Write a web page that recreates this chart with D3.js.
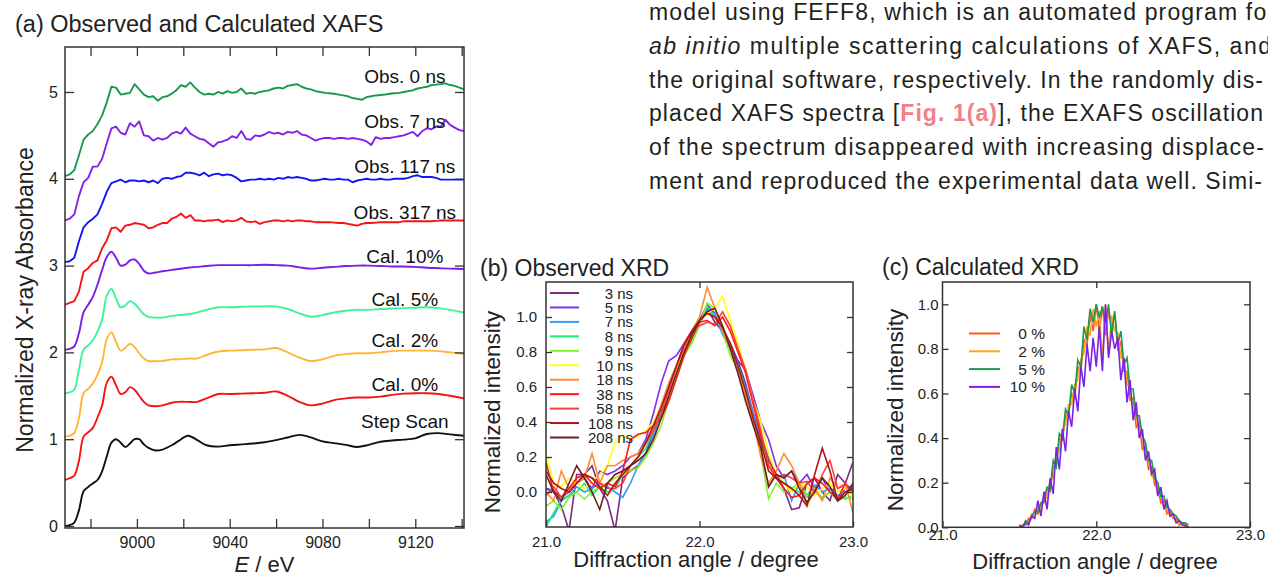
<!DOCTYPE html>
<html>
<head>
<meta charset="utf-8">
<script src="https://cdn.jsdelivr.net/npm/d3@7"></script>
<style>
  body { margin: 0; background: #fff; }
  svg { display: block; font-family: "Liberation Sans", Arial, Helvetica, sans-serif; }
  text { white-space: pre; }
</style>
</head>
<body>
<svg id="fig" width="1268" height="577"></svg>
<script>
// ---------- (a) XAFS spectra, stacked with offsets ----------
const xafsLabels = ["Obs. 0 ns", "Obs. 7 ns", "Obs. 117 ns", "Obs. 317 ns",
  "Cal. 10%", "Cal. 5%", "Cal. 2%", "Cal. 0%", "Step Scan"];
const xafsColors = ["#179a4c", "#8222e8", "#1414f5", "#f51212",
  "#7a1ee6", "#3ef29b", "#ffb535", "#f51212", "#111111"];
const xafsOffsets = [4.0, 3.5, 3.0, 2.5, 2.0, 1.5, 1.0, 0.5, 0.0];
const xafsTicks = [8980, 9000, 9020, 9040, 9060, 9080, 9100, 9120, 9140];
const xafsTickLabels = [9000, 9040, 9080, 9120];

// observed spectra (quick scans), 2 eV steps
const obsEnergy = [
  8969, 8971, 8973, 8975, 8977, 8979, 8981, 8983, 8985, 8987,
  8989, 8991, 8993, 8995, 8997, 8999, 9001, 9003, 9005, 9007,
  9009, 9011, 9013, 9015, 9017, 9019, 9021, 9023, 9025, 9027,
  9029, 9031, 9033, 9035, 9037, 9039, 9041, 9043, 9045, 9047,
  9049, 9051, 9053, 9055, 9057, 9059, 9061, 9063, 9065, 9067,
  9069, 9071, 9073, 9075, 9077, 9079, 9081, 9083, 9085, 9087,
  9089, 9091, 9093, 9095, 9097, 9099, 9101, 9103, 9105, 9107,
  9109, 9111, 9113, 9115, 9117, 9119, 9121, 9123, 9125, 9127,
  9129, 9131, 9133, 9135, 9137, 9139, 9141];
const obs0ns = [
  0.03, 0.05, 0.10, 0.27, 0.45, 0.51, 0.55, 0.63, 0.73, 0.88,
  1.06, 1.05, 0.97, 0.98, 0.99, 1.09, 1.03, 0.97, 0.94, 0.95,
  0.90, 0.94, 0.95, 0.98, 1.02, 1.08, 1.06, 1.11, 1.05, 1.00,
  0.97, 0.98, 0.97, 1.00, 0.98, 1.01, 0.99, 1.00, 1.04, 0.98,
  0.99, 0.98, 1.00, 1.01, 1.02, 1.04, 1.05, 1.04, 1.07, 1.08,
  1.09, 1.06, 1.04, 1.03, 1.01, 1.00, 0.99, 0.985, 0.98, 0.97,
  0.96, 0.95, 0.93, 0.92, 0.91, 0.94, 0.95, 0.96, 0.965, 0.97,
  0.98, 0.985, 0.99, 1.00, 1.01, 1.02, 1.04, 1.05, 1.06, 1.08,
  1.085, 1.09, 1.10, 1.08, 1.07, 1.05, 1.03];
const obs7ns = [
  0.02, 0.04, 0.09, 0.30, 0.46, 0.51, 0.64, 0.64, 0.73, 0.91,
  1.08, 1.10, 1.03, 1.01, 1.14, 1.10, 1.16, 1.00, 0.99, 0.94,
  0.97, 0.95, 0.97, 1.02, 1.04, 1.02, 1.09, 1.02, 0.99, 0.96,
  0.95, 0.91, 0.87, 0.92, 0.93, 0.95, 0.99, 0.97, 1.05, 0.96,
  0.95, 1.00, 0.99, 1.01, 1.04, 1.02, 1.03, 1.01, 1.04, 1.03,
  1.05, 1.01, 1.00, 0.97, 0.94, 0.96, 0.97, 0.97, 0.96, 0.97,
  0.97, 0.96, 0.97, 0.96, 0.95, 0.93, 0.89, 0.98, 0.96, 0.97,
  0.97, 0.98, 0.99, 1.00, 1.02, 1.04, 0.99, 1.05, 1.08, 1.07,
  1.10, 1.10, 1.18, 1.12, 1.09, 1.06, 1.05];
const obs117ns = [
  0.04, 0.05, 0.09, 0.28, 0.44, 0.50, 0.54, 0.59, 0.71, 0.85,
  0.95, 0.97, 0.99, 0.96, 0.98, 0.98, 0.97, 0.98, 0.96, 0.98,
  0.95, 1.00, 1.01, 1.00, 1.02, 1.03, 1.07, 1.07, 1.06, 1.04,
  1.07, 1.03, 1.05, 1.06, 1.04, 1.05, 1.04, 1.01, 0.97, 0.98,
  0.99, 0.99, 1.00, 0.99, 1.00, 0.99, 1.01, 1.00, 1.02, 1.01,
  1.02, 1.01, 1.00, 0.98, 0.98, 0.99, 1.00, 0.99, 0.99, 1.00,
  0.99, 0.99, 0.96, 0.98, 0.99, 1.00, 0.99, 0.99, 1.00, 0.99,
  0.99, 1.00, 1.00, 1.00, 1.01, 1.03, 1.04, 1.02, 1.02, 1.02,
  1.01, 0.99, 0.99, 0.99, 0.99, 0.99, 0.99];
const obs317ns = [
  0.05, 0.07, 0.09, 0.20, 0.43, 0.47, 0.53, 0.56, 0.70, 0.79,
  0.93, 0.94, 0.89, 0.96, 0.97, 0.99, 0.98, 0.97, 0.93, 0.94,
  0.97, 0.99, 0.99, 1.04, 1.06, 1.10, 1.05, 1.08, 1.02, 1.02,
  1.01, 1.02, 1.02, 1.03, 1.00, 1.02, 1.01, 1.02, 1.05, 1.01,
  1.00, 1.01, 0.98, 1.00, 1.01, 1.02, 1.02, 1.01, 1.02, 1.01,
  1.02, 1.02, 1.01, 1.01, 1.00, 1.00, 1.00, 1.00, 0.995, 0.99,
  0.99, 0.98, 0.97, 0.96, 0.98, 0.99, 0.99, 0.995, 1.00, 1.00,
  1.00, 1.00, 1.00, 1.01, 1.01, 1.01, 1.01, 1.01, 1.01, 1.01,
  1.015, 1.02, 1.02, 1.02, 1.02, 1.02, 1.02];

// calculated spectra and step scan (smooth)
const smoothEnergy = [
  8969, 8971, 8973, 8975, 8977, 8979, 8981, 8983, 8985, 8987,
  8989, 8991, 8993, 8995, 8997, 8999, 9001, 9003, 9005, 9008,
  9011, 9015, 9018, 9022, 9026, 9030, 9035, 9040, 9045, 9050,
  9055, 9060, 9065, 9070, 9075, 9080, 9085, 9090, 9095, 9100,
  9105, 9110, 9115, 9120, 9125, 9130, 9135, 9141];
const cal10 = [
  0.03, 0.04, 0.07, 0.22, 0.46, 0.55, 0.64, 0.78, 0.95, 1.10,
  1.16, 1.09, 1.00, 1.01, 1.06, 1.07, 1.02, 0.94, 0.91, 0.92,
  0.935, 0.95, 0.96, 0.975, 0.985, 0.995, 1.005, 1.005, 1.005, 1.005,
  1.01, 1.005, 1.00, 0.98, 0.965, 0.975, 0.985, 0.995, 1.00, 1.00,
  0.995, 0.99, 0.99, 0.985, 0.975, 0.97, 0.965, 0.96];
const cal5 = [
  0.03, 0.04, 0.07, 0.30, 0.53, 0.58, 0.64, 0.74, 0.88, 1.15,
  1.23, 1.12, 1.02, 1.04, 1.09, 1.06, 1.00, 0.94, 0.91, 0.90,
  0.90, 0.92, 0.93, 0.94, 0.96, 0.99, 1.02, 1.02, 1.025, 1.03,
  1.03, 1.03, 1.00, 0.95, 0.91, 0.93, 0.96, 0.98, 0.99, 0.99,
  1.00, 1.005, 1.01, 1.015, 1.02, 1.01, 0.99, 0.96];
const cal2 = [
  0.03, 0.04, 0.07, 0.24, 0.53, 0.58, 0.64, 0.74, 0.89, 1.15,
  1.23, 1.12, 1.02, 1.05, 1.10, 1.06, 0.99, 0.93, 0.90, 0.90,
  0.90, 0.92, 0.92, 0.93, 0.93, 0.97, 1.01, 1.02, 1.025, 1.03,
  1.035, 1.05, 1.00, 0.94, 0.90, 0.92, 0.96, 0.98, 0.99, 0.99,
  1.00, 1.015, 1.02, 1.02, 1.02, 1.015, 1.00, 0.98];
const cal0 = [
  0.03, 0.05, 0.08, 0.25, 0.53, 0.58, 0.63, 0.75, 0.89, 1.15,
  1.22, 1.12, 1.02, 1.04, 1.10, 1.07, 1.00, 0.93, 0.89, 0.88,
  0.89, 0.92, 0.93, 0.93, 0.93, 0.97, 1.02, 1.02, 1.025, 1.03,
  1.035, 1.05, 1.00, 0.93, 0.89, 0.91, 0.95, 0.97, 0.98, 0.98,
  0.99, 1.01, 1.025, 1.03, 1.03, 1.02, 1.00, 0.97];
const stepScan = [
  0.00, 0.01, 0.04, 0.18, 0.40, 0.45, 0.49, 0.53, 0.63, 0.80,
  0.96, 1.00, 0.96, 0.91, 0.95, 1.00, 1.00, 0.94, 0.90, 0.87,
  0.88, 0.93, 0.98, 1.04, 0.99, 0.93, 0.915, 0.93, 0.94, 0.95,
  0.965, 0.99, 1.02, 1.05, 1.02, 0.975, 0.955, 0.935, 0.91, 0.935,
  0.97, 0.985, 0.995, 1.01, 1.06, 1.07, 1.055, 1.04];

// ---------- (b) observed XRD ----------
const xrdAngle = [
  21.00, 21.05, 21.10, 21.15, 21.20, 21.25, 21.30, 21.35, 21.40, 21.45,
  21.50, 21.55, 21.60, 21.65, 21.70, 21.75, 21.80, 21.85, 21.90, 21.95,
  22.00, 22.05, 22.10, 22.15, 22.20, 22.25, 22.30, 22.35, 22.40, 22.45,
  22.50, 22.55, 22.60, 22.65, 22.70, 22.75, 22.80, 22.85, 22.90, 22.95, 23.00];
const xrdLabels = ["3 ns", "5 ns", "7 ns", "8 ns", "9 ns", "10 ns",
  "18 ns", "38 ns", "58 ns", "108 ns", "208 ns"];
const xrdColors = ["#7b2a80", "#8030f0", "#3399ff", "#18ee78", "#8aee2a", "#ffff14",
  "#ff8c33", "#ff1818", "#ff3c3c", "#b01418", "#6e2020"];
const xrd3 = [0.02, 0.00, -0.08, -0.22, 0.10, 0.10, 0.15, 0.02, -0.05, -0.22,
  0.08, 0.12, 0.15, 0.22, 0.35, 0.48, 0.62, 0.72, 0.82, 0.90,
  0.98, 1.05, 0.97, 0.92, 0.85, 0.75, 0.62, 0.45, 0.30, 0.15,
  0.08, 0.02, -0.10, -0.09, 0.05, 0.08, 0.00, -0.05, 0.10, 0.05, 0.17];
const xrd5 = [0.02, 0.01, -0.03, 0.00, 0.05, 0.08, 0.02, 0.12, 0.10, 0.12,
  0.15, 0.20, 0.22, 0.30, 0.45, 0.62, 0.75, 0.78, 0.85, 0.92,
  0.98, 1.07, 1.02, 0.92, 0.84, 0.75, 0.70, 0.55, 0.40, 0.30,
  0.15, 0.08, 0.12, 0.05, 0.10, 0.02, 0.08, 0.00, -0.05, 0.02, 0.03];
const xrd7 = [-0.17, -0.14, -0.05, -0.02, 0.03, 0.00, 0.02, 0.05, 0.03, 0.00,
  -0.03, 0.05, 0.15, 0.22, 0.32, 0.45, 0.58, 0.68, 0.80, 0.88,
  0.96, 1.04, 1.02, 0.90, 0.82, 0.73, 0.60, 0.45, 0.32, 0.20,
  0.08, 0.10, -0.05, 0.05, -0.02, 0.04, 0.00, 0.02, -0.02, 0.00, 0.01];
const xrd8 = [-0.20, -0.12, -0.04, -0.02, 0.00, 0.05, -0.02, 0.03, 0.00, 0.02,
  0.10, 0.15, 0.20, 0.25, 0.35, 0.48, 0.60, 0.72, 0.82, 0.86,
  0.97, 1.06, 1.00, 0.93, 0.83, 0.72, 0.58, 0.42, 0.28, 0.15,
  0.10, 0.05, 0.02, 0.00, -0.03, 0.02, -0.04, 0.00, -0.03, -0.04, -0.02];
const xrd9 = [-0.08, -0.05, -0.10, -0.03, 0.00, -0.04, 0.00, 0.03, 0.05, 0.08,
  0.10, 0.12, 0.14, 0.20, 0.28, 0.38, 0.52, 0.65, 0.78, 0.85,
  0.95, 1.08, 1.05, 0.92, 0.78, 0.70, 0.55, 0.40, 0.22, -0.04,
  0.05, 0.00, 0.02, 0.05, -0.02, 0.00, -0.03, 0.00, -0.05, -0.03, -0.04];
const xrd10 = [0.22, 0.05, 0.03, 0.08, 0.05, 0.02, 0.06, 0.10, 0.15, 0.28,
  0.32, 0.30, 0.32, 0.35, 0.40, 0.48, 0.58, 0.70, 0.82, 0.90,
  0.98, 1.02, 1.05, 1.12, 0.98, 0.85, 0.70, 0.52, 0.40, 0.22,
  0.10, 0.05, 0.00, 0.05, 0.03, -0.02, 0.02, 0.05, 0.00, 0.02, -0.03];
const xrd18 = [0.00, -0.05, 0.12, 0.02, 0.05, 0.08, 0.22, 0.05, 0.15, 0.15,
  0.18, 0.20, 0.22, 0.28, 0.38, 0.50, 0.62, 0.72, 0.82, 0.92,
  1.00, 1.17, 1.05, 0.92, 0.82, 0.68, 0.55, 0.40, 0.20, 0.05,
  0.12, 0.22, 0.15, 0.05, -0.08, 0.02, -0.05, 0.08, 0.02, 0.05, -0.12];
const xrd38 = [0.17, 0.00, -0.03, 0.02, 0.08, 0.10, 0.05, 0.02, 0.05, 0.03,
  0.12, 0.30, 0.33, 0.34, 0.38, 0.42, 0.52, 0.65, 0.78, 0.88,
  0.97, 0.98, 0.95, 1.00, 0.92, 0.80, 0.68, 0.50, 0.32, 0.18,
  0.10, 0.02, -0.03, -0.02, 0.05, 0.08, 0.05, 0.00, -0.04, 0.05, 0.00];
const xrd58 = [-0.02, 0.03, -0.03, 0.00, 0.05, 0.10, 0.08, 0.05, 0.02, 0.02,
  0.05, 0.15, 0.20, 0.28, 0.35, 0.45, 0.58, 0.72, 0.85, 0.92,
  0.95, 0.97, 0.96, 1.03, 0.95, 0.82, 0.70, 0.52, 0.35, 0.15,
  0.08, 0.10, 0.08, 0.05, 0.06, 0.00, 0.10, 0.18, 0.02, 0.04, 0.02];
const xrd108 = [0.12, 0.05, 0.02, 0.00, 0.05, 0.10, 0.08, 0.03, -0.02, 0.05,
  0.10, 0.15, 0.20, 0.28, 0.38, 0.48, 0.60, 0.72, 0.84, 0.92,
  0.98, 1.02, 1.00, 0.94, 0.85, 0.72, 0.58, 0.42, 0.28, 0.12,
  0.08, 0.05, 0.02, -0.02, -0.08, 0.10, 0.25, 0.12, -0.05, 0.00, 0.02];
const xrd208 = [0.10, 0.00, -0.05, 0.05, 0.15, 0.08, 0.00, -0.10, 0.05, 0.10,
  0.12, 0.15, 0.18, 0.22, 0.30, 0.42, 0.55, 0.68, 0.80, 0.90,
  0.98, 1.03, 1.05, 0.95, 0.82, 0.68, 0.52, 0.38, 0.25, 0.03,
  0.10, 0.08, 0.12, 0.02, -0.06, 0.00, 0.08, 0.03, -0.05, -0.02, 0.05];

// ---------- (c) calculated XRD ----------
const calAngle = [
  21.50, 21.52, 21.54, 21.56, 21.58, 21.60, 21.62, 21.64, 21.66, 21.68,
  21.70, 21.72, 21.74, 21.76, 21.78, 21.80, 21.82, 21.84, 21.86, 21.88,
  21.90, 21.92, 21.94, 21.96, 21.98, 22.00, 22.02, 22.04, 22.06, 22.08,
  22.10, 22.12, 22.14, 22.16, 22.18, 22.20, 22.22, 22.24, 22.26, 22.28,
  22.30, 22.32, 22.34, 22.36, 22.38, 22.40, 22.42, 22.44, 22.46, 22.48,
  22.50, 22.52, 22.54, 22.56, 22.58, 22.60];
const calLabels = ["0 %", "2 %", "5 %", "10 %"];
const calColors = ["#ff5a1e", "#ffa814", "#1a9a4e", "#7a22e6"];
const xrdCal0 = [0.00, 0.01, 0.01, 0.04, 0.04, 0.08, 0.06, 0.10, 0.11, 0.17,
  0.16, 0.27, 0.28, 0.40, 0.39, 0.50, 0.51, 0.60, 0.58, 0.72,
  0.70, 0.84, 0.82, 0.95, 0.88, 1.00, 0.88, 0.99, 0.86, 0.97,
  0.90, 0.96, 0.80, 0.83, 0.70, 0.70, 0.57, 0.58, 0.45, 0.47,
  0.35, 0.36, 0.26, 0.27, 0.19, 0.18, 0.11, 0.12, 0.06, 0.07,
  0.04, 0.04, 0.01, 0.02, 0.00, 0.00];
const xrdCal2 = [0.00, 0.00, 0.02, 0.02, 0.06, 0.05, 0.09, 0.08, 0.14, 0.13,
  0.21, 0.22, 0.33, 0.34, 0.44, 0.46, 0.55, 0.55, 0.64, 0.66,
  0.75, 0.78, 0.90, 0.86, 0.98, 0.90, 0.97, 0.75, 1.00, 0.78,
  0.95, 0.88, 0.87, 0.76, 0.75, 0.64, 0.63, 0.52, 0.50, 0.42,
  0.40, 0.31, 0.30, 0.23, 0.22, 0.15, 0.14, 0.09, 0.08, 0.05,
  0.05, 0.02, 0.02, 0.01, 0.01, 0.00];
const xrdCal5 = [0.01, 0.00, 0.03, 0.02, 0.05, 0.07, 0.07, 0.11, 0.12, 0.18,
  0.17, 0.30, 0.27, 0.42, 0.40, 0.53, 0.50, 0.64, 0.60, 0.75,
  0.72, 0.90, 0.84, 0.98, 0.92, 1.00, 0.94, 0.99, 0.92, 1.00,
  0.86, 0.97, 0.82, 0.88, 0.73, 0.76, 0.62, 0.62, 0.50, 0.50,
  0.41, 0.38, 0.30, 0.30, 0.22, 0.20, 0.14, 0.14, 0.09, 0.08,
  0.06, 0.05, 0.03, 0.02, 0.02, 0.01];
const xrdCal10 = [0.01, 0.00, 0.02, 0.01, 0.05, 0.04, 0.12, 0.05, 0.16, 0.08,
  0.22, 0.15, 0.36, 0.26, 0.44, 0.34, 0.52, 0.45, 0.62, 0.52,
  0.72, 0.63, 0.82, 0.70, 0.85, 0.72, 0.90, 0.70, 1.00, 0.76,
  0.88, 0.80, 0.85, 0.66, 0.76, 0.56, 0.66, 0.48, 0.56, 0.40,
  0.44, 0.30, 0.34, 0.24, 0.26, 0.14, 0.18, 0.08, 0.12, 0.05,
  0.06, 0.02, 0.03, 0.01, 0.01, 0.00];

// ---------- body text beside the figure ----------
const textLines = [
  [["model using FEFF8, which is an automated program for", ""]],
  [["ab initio", "i"], [" multiple scattering calculations of XAFS, and", ""]],
  [["the original software, respectively. In the randomly dis-", ""]],
  [["placed XAFS spectra [", ""], ["Fig. 1(a)", "link"], ["], the EXAFS oscillation", ""]],
  [["of the spectrum disappeared with increasing displace-", ""]],
  [["ment and reproduced the experimental data well. Simi-", ""]]
];

const ink = "#222";
const svg = d3.select("#fig");
const defs = svg.append("defs");

// draws the four sided frame plus inward ticks for one panel
function drawAxes(g, x, y, opt) {
  const [x0, x1] = x.range();
  const [y0, y1] = y.range();
  const style = (sel, size) => {
    sel.attr("font-family", null).attr("font-size", null);
    sel.select(".domain").remove();
    sel.selectAll(".tick line").attr("stroke", "#333").attr("stroke-width", 1.3);
    sel.selectAll(".tick text").attr("fill", ink).style("font-size", size + "px");
  };
  g.append("g").attr("transform", `translate(0,${y0})`)
    .call(d3.axisBottom(x).tickValues(opt.xTicks).tickSize(-opt.tick).tickPadding(opt.xPad)
      .tickFormat(opt.xFormat))
    .call(style, opt.font);
  g.append("g").attr("transform", `translate(0,${y1})`)
    .call(d3.axisTop(x).tickValues(opt.xTopTicks).tickSize(-opt.tick).tickFormat(""))
    .call(style, opt.font);
  g.append("g").attr("transform", `translate(${x0},0)`)
    .call(d3.axisLeft(y).tickValues(opt.yTicks).tickSize(-opt.tick).tickPadding(opt.yPad)
      .tickFormat(opt.yFormat))
    .call(style, opt.font);
  g.append("g").attr("transform", `translate(${x1},0)`)
    .call(d3.axisRight(y).tickValues(opt.yTicks).tickSize(-opt.tick).tickFormat(""))
    .call(style, opt.font);
  g.append("rect")
    .attr("x", x0).attr("y", y1).attr("width", x1 - x0).attr("height", y0 - y1)
    .attr("fill", "none").attr("stroke", "#333").attr("stroke-width", 1.5);
}

function addClip(id, x, y) {
  defs.append("clipPath").attr("id", id).append("rect")
    .attr("x", x.range()[0]).attr("y", y.range()[1])
    .attr("width", x.range()[1] - x.range()[0])
    .attr("height", y.range()[0] - y.range()[1]);
}

// ---------- panel (a) ----------
const xA = d3.scaleLinear().domain([8969, 9141]).range([65, 464]);
const yA = d3.scaleLinear().domain([-0.023, 5.518]).range([528, 47]);
const gA = svg.append("g");
addClip("clipA", xA, yA);

const xafsSeries = [
  { e: obsEnergy, v: obs0ns, smooth: false },
  { e: obsEnergy, v: obs7ns, smooth: false },
  { e: obsEnergy, v: obs117ns, smooth: false },
  { e: obsEnergy, v: obs317ns, smooth: false },
  { e: smoothEnergy, v: cal10, smooth: true },
  { e: smoothEnergy, v: cal5, smooth: true },
  { e: smoothEnergy, v: cal2, smooth: true },
  { e: smoothEnergy, v: cal0, smooth: true },
  { e: smoothEnergy, v: stepScan, smooth: true }
];

xafsSeries.forEach((s, i) => {
  const line = d3.line()
    .x((d, j) => xA(s.e[j]))
    .y(d => yA(d + xafsOffsets[i]))
    .curve(s.smooth ? d3.curveCatmullRom.alpha(0.5) : d3.curveLinear);
  gA.append("path")
    .attr("clip-path", "url(#clipA)")
    .attr("d", line(s.v))
    .attr("fill", "none")
    .attr("stroke", xafsColors[i])
    .attr("stroke-width", 1.9)
    .attr("stroke-linejoin", "round");
});

drawAxes(gA, xA, yA, {
  xTicks: xafsTicks, xTopTicks: xafsTicks, yTicks: [0, 1, 2, 3, 4, 5],
  tick: 9, xPad: 9, yPad: 7, font: 16,
  xFormat: d => xafsTickLabels.includes(d) ? d : "",
  yFormat: d3.format("d")
});

// curve names, placed at a level in data units above each curve
const xafsLabelLevel = [5.10, 4.58, 4.07, 3.54, 3.03, 2.53, 2.06, 1.55, 1.13];
gA.selectAll("text.curve-name")
  .data(xafsLabels)
  .join("text")
  .attr("class", "curve-name")
  .attr("x", xA(9115.5))
  .attr("y", (d, i) => yA(xafsLabelLevel[i]))
  .attr("text-anchor", "middle")
  .attr("fill", "#111")
  .style("font-size", "19px")
  .text(d => d);

svg.append("text")
  .attr("x", 15).attr("y", 32)
  .attr("fill", ink).style("font-size", "23.5px")
  .text("(a) Observed and Calculated XAFS");

svg.append("text")
  .attr("transform", "translate(33,300) rotate(-90)")
  .attr("text-anchor", "middle")
  .attr("fill", ink).style("font-size", "23px")
  .text("Normalized X-ray Absorbance");

const eLabel = svg.append("text")
  .attr("x", (xA.range()[0] + xA.range()[1]) / 2).attr("y", 572)
  .attr("text-anchor", "middle")
  .attr("fill", ink).style("font-size", "22px");
eLabel.append("tspan").style("font-style", "italic").text("E");
eLabel.append("tspan").text(" / eV");

// ---------- panel (b) ----------
const xB = d3.scaleLinear().domain([21, 23]).range([546, 853]);
const yB = d3.scaleLinear().domain([-0.2, 1.2]).range([527, 282]);
const gB = svg.append("g");
addClip("clipB", xB, yB);

const xrdSeries = [xrd3, xrd5, xrd7, xrd8, xrd9, xrd10, xrd18, xrd38, xrd58, xrd108, xrd208];
const lineB = d3.line().x((d, j) => xB(xrdAngle[j])).y(d => yB(d));
xrdSeries.forEach((s, i) => {
  gB.append("path")
    .attr("clip-path", "url(#clipB)")
    .attr("d", lineB(s))
    .attr("fill", "none")
    .attr("stroke", xrdColors[i])
    .attr("stroke-width", 1.6);
});

drawAxes(gB, xB, yB, {
  xTicks: [21, 22, 23], xTopTicks: [22], yTicks: [0, 0.2, 0.4, 0.6, 0.8, 1.0],
  tick: 6, xPad: 9, yPad: 9, font: 15,
  xFormat: d3.format(".1f"), yFormat: d3.format(".1f")
});

// legend (b)
const legB = gB.append("g");
xrdLabels.forEach((lab, i) => {
  const yy = 293 + i * 14.45;
  legB.append("line")
    .attr("x1", 550).attr("x2", 579).attr("y1", yy).attr("y2", yy)
    .attr("stroke", xrdColors[i]).attr("stroke-width", 2);
  legB.append("text")
    .attr("x", 633).attr("y", yy + 5.5)
    .attr("text-anchor", "end").attr("fill", ink)
    .style("font-size", "15px").text(lab);
});

svg.append("text")
  .attr("x", 480).attr("y", 276)
  .attr("fill", ink).style("font-size", "23px")
  .text("(b) Observed XRD");
svg.append("text")
  .attr("transform", "translate(500,412) rotate(-90)")
  .attr("text-anchor", "middle")
  .attr("fill", ink).style("font-size", "22.5px")
  .text("Normalized intensity");
svg.append("text")
  .attr("x", 696).attr("y", 567)
  .attr("text-anchor", "middle")
  .attr("fill", ink).style("font-size", "22px")
  .text("Diffraction angle / degree");

// ---------- panel (c) ----------
const xC = d3.scaleLinear().domain([21, 23]).range([942.5, 1250]);
const yC = d3.scaleLinear().domain([0, 1.1]).range([527.3, 282]);
const gC = svg.append("g");
addClip("clipC", xC, yC);

const calSeries = [xrdCal0, xrdCal2, xrdCal5, xrdCal10];
const lineC = d3.line().x((d, j) => xC(calAngle[j])).y(d => yC(d));
calSeries.forEach((s, i) => {
  gC.append("path")
    .attr("clip-path", "url(#clipC)")
    .attr("d", lineC(s))
    .attr("fill", "none")
    .attr("stroke", calColors[i])
    .attr("stroke-width", 1.6);
});

drawAxes(gC, xC, yC, {
  xTicks: [21, 22, 23], xTopTicks: [22], yTicks: [0, 0.2, 0.4, 0.6, 0.8, 1.0],
  tick: 6, xPad: 2, yPad: 4, font: 15,
  xFormat: d3.format(".1f"), yFormat: d3.format(".1f")
});

// legend (c)
const legC = gC.append("g");
calLabels.forEach((lab, i) => {
  const yy = 333.5 + i * 17.8;
  legC.append("line")
    .attr("x1", 969).attr("x2", 1000).attr("y1", yy).attr("y2", yy)
    .attr("stroke", calColors[i]).attr("stroke-width", 2);
  legC.append("text")
    .attr("x", 1045).attr("y", yy + 5.5)
    .attr("text-anchor", "end").attr("fill", ink)
    .style("font-size", "15.5px").text(lab);
});

svg.append("text")
  .attr("x", 882).attr("y", 275)
  .attr("fill", ink).style("font-size", "23px")
  .text("(c) Calculated XRD");
svg.append("text")
  .attr("transform", "translate(903,410) rotate(-90)")
  .attr("text-anchor", "middle")
  .attr("fill", ink).style("font-size", "22.5px")
  .text("Normalized intensity");
svg.append("text")
  .attr("x", 1095).attr("y", 569)
  .attr("text-anchor", "middle")
  .attr("fill", ink).style("font-size", "22px")
  .text("Diffraction angle / degree");

// ---------- paragraph at the top right ----------
const lineWidths = [626, 622, 614, 614, 615, 613];
textLines.forEach((parts, i) => {
  const t = svg.append("text")
    .attr("x", 649).attr("y", 20 + i * 33.8)
    .attr("fill", "#231f20")
    .style("font-size", "23px")
    .attr("textLength", lineWidths[i])
    .attr("lengthAdjust", "spacing");
  parts.forEach(([str, kind]) => {
    const ts = t.append("tspan").text(str);
    if (kind === "i") ts.style("font-style", "italic");
    if (kind === "link") ts.attr("fill", "#f0808a").style("font-weight", "bold");
  });
});
</script>
</body>
</html>
